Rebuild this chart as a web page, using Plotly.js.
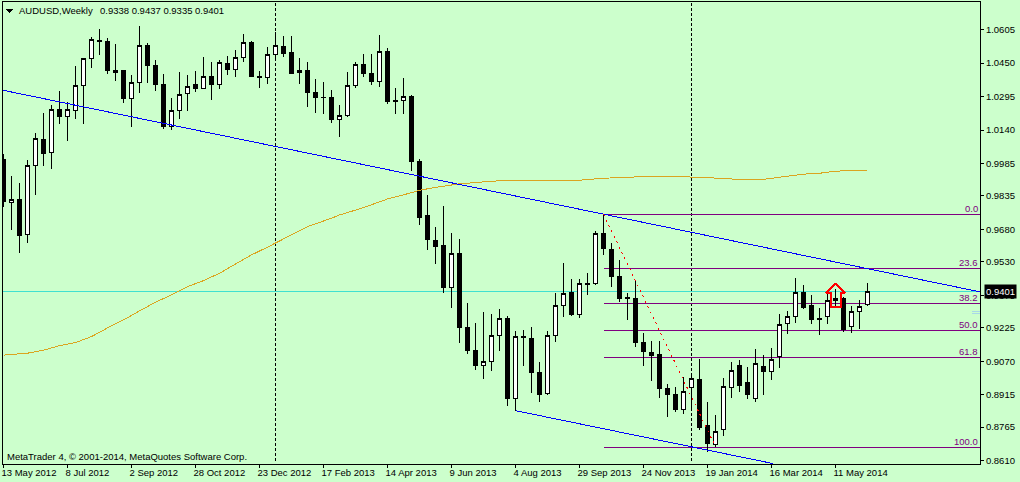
<!DOCTYPE html>
<html><head><meta charset="utf-8">
<script src="https://cdn.plot.ly/plotly-3.0.1.min.js"></script>
<style>html,body{margin:0;padding:0;background:#CCFFCC}#c{width:1020px;height:482px}
svg path{shape-rendering:crispEdges !important}</style>
</head><body><div id="c"></div>
<script>
const openP=[1.0005,.9806,.9820,.9656,.9977,1.0097,1.0036,1.0236,1.0202,1.0230,
1.0347,1.0472,1.0557,1.0551,1.0418,1.0414,1.0286,1.0360,1.0533,1.0440,
1.0352,1.0156,1.0232,1.0309,1.0349,1.0332,1.0389,1.0351,1.0449,1.0422,
1.0477,1.0547,1.0389,1.0385,1.0491,1.0528,1.0500,1.0406,1.0417,1.0315,
1.0293,1.0292,1.0190,1.0207,1.0346,1.0445,1.0403,1.0366,1.0505,1.0278,
1.0278,1.0297,.9996,.9743,.9631,.9604,.9412,.9570,.9227,.9121,
.9051,.9070,.9190,.9269,.8897,.9186,.9176,.9019,.8920,.9188,
.9329,.9389,.9286,.9431,.9431,.9662,.9588,.9463,.9366,.9361,
.9158,.9111,.9102,.8945,.8917,.8846,.8949,.8987,.8774,.8684,
.8755,.8949,.9051,.8973,.8897,.9047,.9020,.9091,.9246,.9278,
.9389,.9329,.9269,.9278,.9358,.9361,.9230,.9301,.9334];
const closeP=[.9809,.9820,.9651,.9977,1.0102,1.0031,1.0236,1.0202,1.0236,1.0347,
1.0472,1.0560,1.0550,1.0415,1.0406,1.0286,1.0361,1.0533,1.0439,1.0351,
1.0156,1.0232,1.0306,1.0343,1.0332,1.0389,1.0351,1.0454,1.0420,1.0477,
1.0547,1.0388,1.0383,1.0491,1.0533,1.0494,1.0401,1.0417,1.0314,1.0290,
1.0289,1.0188,1.0207,1.0346,1.0445,1.0401,1.0364,1.0505,1.0272,1.0272,
1.0297,.9994,.9735,.9633,.9600,.9411,.9570,.9225,.9119,.9049,
.9070,.9190,.9269,.8897,.9186,.9179,.9017,.8915,.9190,.9329,
.9385,.9286,.9431,.9425,.9662,.9591,.9461,.9360,.9360,.9156,
.9114,.9096,.8943,.8915,.8846,.8931,.8991,.8762,.8688,.8746,
.8954,.9028,.8957,.8915,.9061,.9022,.9079,.9241,.9278,.9389,
.9317,.9262,.9262,.9350,.9352,.9219,.9301,.9325,.9394];
const highP=[1.0030,.9928,.9894,1.0002,1.0125,1.0218,1.0255,1.0320,1.0272,1.0437,
1.0472,1.0573,1.0608,1.0565,1.0539,1.0414,1.0394,1.0621,1.0542,1.0465,
1.0400,1.0289,1.0409,1.0395,1.0414,1.0479,1.0455,1.0463,1.0483,1.0509,
1.0585,1.0551,1.0414,1.0525,1.0593,1.0574,1.0574,1.0472,1.0454,1.0375,
1.0363,1.0326,1.0255,1.0409,1.0454,1.0491,1.0491,1.0580,1.0519,1.0334,
1.0380,1.0301,1.0005,.9838,.9690,.9789,.9664,.9635,.9338,.9246,
.9297,.9287,.9311,.9278,.9209,.9213,.9227,.9065,.9209,.9385,
.9524,.9450,.9450,.9477,.9672,.9750,.9616,.9537,.9385,.9440,
.9199,.9162,.9162,.8963,.8949,.8999,.9011,.9079,.8880,.8820,
.8991,.9065,.9074,.9042,.9125,.9098,.9130,.9287,.9303,.9456,
.9423,.9377,.9315,.9386,.9403,.9366,.9326,.9352,.9432];
const lowP=[.9786,.9678,.9573,.9619,.9840,.9976,.9962,1.0168,1.0091,1.0193,
1.0168,1.0428,1.0488,1.0400,1.0368,1.0267,1.0155,1.0314,1.0358,1.0323,
1.0147,1.0142,1.0192,1.0229,1.0315,1.0332,1.0281,1.0332,1.0397,1.0388,
1.0457,1.0386,1.0335,1.0355,1.0468,1.0480,1.0398,1.0355,1.0247,1.0219,
1.0216,1.0173,1.0110,1.0202,1.0337,1.0388,1.0351,1.0341,1.0263,1.0216,
1.0216,.9952,.9702,.9585,.9522,.9387,.9318,.9156,.9105,.9031,
.8989,.9026,.9119,.8864,.8841,.9049,.8925,.8883,.8915,.9161,
.9276,.9281,.9272,.9378,.9423,.9563,.9415,.9346,.9261,.9137,
.9049,.8979,.8901,.8813,.8836,.8826,.8855,.8752,.8651,.8674,
.8725,.8901,.8929,.8897,.8883,.8914,.8983,.9039,.9196,.9247,
.9312,.9244,.9193,.9243,.9323,.9204,.9202,.9218,.9326];
const maWeek=[0,3,5,7,9,11,13,15,17,19,21,23,25,27,29,31,33,35,38,41,42,45,48,51,52,54,57,60,63,72,75,81,85,86,88,89,92,95,96,98,100,102,104,108];
const maValue=[.9098,.9107,.9121,.9142,.9156,.9184,.9224,.9261,.9303,.9343,.9377,.9415,.9443,.9477,.9520,.9562,.9598,.9635,.9693,.9732,.9747,.9781,.9821,.9850,.9861,.9875,.9891,.9900,.9908,.9908,.9917,.9926,.9926,.9922,.9922,.9917,.9912,.9912,.9917,.9926,.9936,.9940,.9950,.9954];
const upperTrendWeek=[0,122.06];
const upperTrendValue=[1.0324,.9391];
const lowerTrendWeek=[64,96.2];
const lowerTrendValue=[.8841,.8596];
const fibLegWeek=[75,89];
const fibLegValue=[.9750,.8674];
const fibNames=['0.0','23.6','38.2','50.0','61.8','100.0'];
const fibValues=[.9750,.9500,.9338,.9213,.9088,.8672];
const arrowWeek=[104,105.2,104.63,104.63,103.46,103.46,102.8,104];
const arrowValue=[.9431,.9387,.9387,.9320,.9320,.9387,.9387,.9431];
const priceNow=.9394;
const vlineWeeks=[34,86];
const tickWeeks=[0,8,16,24,32,40,48,56,64,72,80,88,96,104];
const tickDates=['13 May 2012','8 Jul 2012','2 Sep 2012','28 Oct 2012','23 Dec 2012','17 Feb 2013','14 Apr 2013','9 Jun 2013','4 Aug 2013','29 Sep 2013','24 Nov 2013','19 Jan 2014','16 Mar 2014','11 May 2014'];
const priceTicks=[1.0605,1.0450,1.0295,1.0140,.9985,.9835,.9680,.9530,.9375,.9225,.9070,.8915,.8765,.8610];

const F='"Liberation Sans", Arial, sans-serif';
const P0=3,PW=977,PB=464,PH=462;
const px=x=>(x-P0)/PW, py=y=>(PB-y)/PH;
const weeks=openP.map((_,i)=>i);

const traces=[
 {type:'candlestick',x:weeks,open:openP,high:highP,low:lowP,close:closeP,whiskerwidth:0,
  increasing:{line:{color:'#000',width:1},fillcolor:'#fff'},
  decreasing:{line:{color:'#000',width:1},fillcolor:'#000'},hoverinfo:'skip',showlegend:false},
 {type:'scatter',mode:'lines',x:maWeek,y:maValue,line:{color:'#DAA520',width:1},hoverinfo:'skip'},
 {type:'scatter',mode:'lines',x:upperTrendWeek,y:upperTrendValue,line:{color:'#0000FF',width:1},hoverinfo:'skip'},
 {type:'scatter',mode:'lines',x:lowerTrendWeek,y:lowerTrendValue,line:{color:'#0000FF',width:1},hoverinfo:'skip'},
 {type:'scatter',mode:'lines',x:fibLegWeek,y:fibLegValue,line:{color:'#FF0000',width:1,dash:'2px,4px'},hoverinfo:'skip'},
 {type:'scatter',mode:'lines',x:arrowWeek,y:arrowValue,line:{color:'#FF0000',width:2},hoverinfo:'skip'}
];
const shapes=[];
vlineWeeks.forEach(w=>shapes.push({type:'line',layer:'below',xref:'x',yref:'paper',x0:w,x1:w,y0:0.006,y1:1,line:{color:'#000',width:1,dash:'3px,2px'}}));
shapes.push({type:'line',layer:'below',xref:'paper',yref:'y',x0:0,x1:1,y0:priceNow,y1:priceNow,line:{color:'#40E0D0',width:1}});
fibValues.forEach(v=>shapes.push({type:'line',layer:'below',xref:'x',yref:'y',x0:75,x1:122.06,y0:v,y1:v,line:{color:'#800080',width:1}}));
shapes.push({type:'path',xref:'paper',yref:'paper',path:`M ${px(6)} ${py(9)} L ${px(13)} ${py(9)} L ${px(9.5)} ${py(13)} Z`,fillcolor:'#000',line:{width:0}});
[.9300,.9292].forEach(v=>shapes.push({type:'line',xref:'paper',yref:'y',x0:px(972),x1:1,y0:v,y1:v,line:{color:'#A8D8E8',width:1}}));

const ann=[];
const txt=(text,x,y,size,extra)=>Object.assign({text,xref:'paper',yref:'paper',x:px(x),y:py(y),xanchor:'left',yanchor:'middle',showarrow:false,borderpad:0,font:{family:F,size,color:'#000'}},extra||{});
ann.push(txt('AUDUSD,Weekly',18,10.5,9.5));
ann.push(txt('0.9338 0.9437 0.9335 0.9401',99,10.5,9.5));
ann.push(txt('MetaTrader 4, © 2001-2014, MetaQuotes Software Corp.',5.5,456.7,9.5));
fibNames.forEach((n,i)=>ann.push({text:n,xref:'paper',yref:'y',x:px(978.5),y:fibValues[i],yshift:6,xanchor:'right',yanchor:'middle',showarrow:false,borderpad:0,font:{family:F,size:9.5,color:'#800080'}}));
ann.push({text:'0.9401',xref:'paper',yref:'y',x:px(984),y:priceNow,xanchor:'left',yanchor:'middle',showarrow:false,bgcolor:'#000',borderpad:1,font:{family:F,size:9.5,color:'#fff'}});

Plotly.newPlot('c',traces,{
 width:1020,height:482,showlegend:false,hovermode:false,dragmode:false,
 margin:{l:3,r:40,t:2,b:18,pad:0},
 paper_bgcolor:'#CCFFCC',plot_bgcolor:'#CCFFCC',
 boxgap:0.35,
 font:{family:F,size:9.5,color:'#000'},
 xaxis:{type:'linear',range:[-0.0625,122.0625],showgrid:false,zeroline:false,rangeslider:{visible:false},
  tickmode:'array',tickvals:tickWeeks,ticktext:tickDates,ticks:'outside',ticklen:3,tickwidth:1,tickcolor:'#000',
  ticklabelposition:'outside right',ticklabelshift:-3,showline:true,linecolor:'#000',linewidth:1,mirror:true,tickfont:{family:F,size:9.5,color:'#000'}},
 yaxis:{type:'linear',side:'right',range:[.8594,1.0733],showgrid:false,zeroline:false,
  tickmode:'array',tickvals:priceTicks,ticktext:priceTicks.map(v=>v.toFixed(4)),ticks:'outside',ticklen:3,tickwidth:1,tickcolor:'#000',
  showline:true,linecolor:'#000',linewidth:1,mirror:true,tickfont:{family:F,size:9.5,color:'#000'}},
 shapes,annotations:ann
},{staticPlot:true,displayModeBar:false});
</script></body></html>
